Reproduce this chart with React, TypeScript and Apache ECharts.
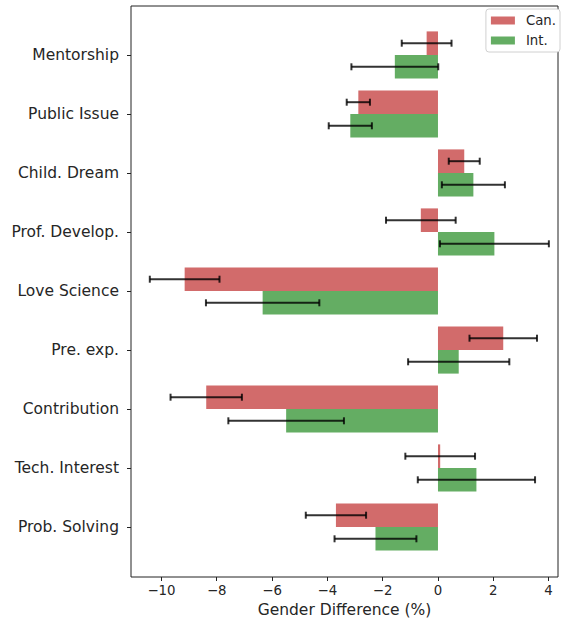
import React, { useEffect, useRef } from "react";
import * as echarts from "echarts";

const categories = [
  "Mentorship",
  "Public Issue",
  "Child. Dream",
  "Prof. Develop.",
  "Love Science",
  "Pre. exp.",
  "Contribution",
  "Tech. Interest",
  "Prob. Solving",
];
const canValues = [-0.41, -2.88, 0.95, -0.62, -9.16, 2.36, -8.38, 0.08, -3.69];
const canErrors = [0.9, 0.42, 0.56, 1.26, 1.26, 1.22, 1.29, 1.26, 1.09];
const intValues = [-1.56, -3.17, 1.28, 2.04, -6.34, 0.75, -5.49, 1.39, -2.26];
const intErrors = [1.57, 0.78, 1.14, 1.97, 2.05, 1.83, 2.09, 2.12, 1.48];
const xTicks = [-10, -8, -6, -4, -2, 0, 2, 4];
const X_MIN = -11.1;
const X_MAX = 4.34;

const FONT = "DejaVu Sans";
const TEXT = "#262626";
const RED = "#d26b6b";
const GREEN = "#64ad63";

export default function App() {
  const ref = useRef<HTMLDivElement>(null);
  useEffect(() => {
    document.body.style.margin = "0";
    if (!ref.current) return;
    const chart = echarts.init(ref.current, null, { renderer: "svg" });
    const errData: number[][] = [];
    categories.forEach((_, i) => {
      errData.push([i, canValues[i] - canErrors[i], canValues[i] + canErrors[i], -1]);
      errData.push([i, intValues[i] - intErrors[i], intValues[i] + intErrors[i], 1]);
    });
    chart.setOption({
      animation: false,
      textStyle: { fontFamily: FONT },
      grid: [
        {
          left: 131,
          right: 5,
          top: 6,
          bottom: 46,
          show: true,
          borderColor: "#222",
          borderWidth: 1,
          backgroundColor: "transparent",
        },
        { left: 131, right: 5, top: 25.5, bottom: 66.5 },
      ],
      xAxis: [
        {
          type: "value",
          gridIndex: 0,
          min: X_MIN,
          max: X_MAX,
          axisLine: { show: false },
          splitLine: { show: false },
          axisTick: {
            show: true,
            length: 4,
            lineStyle: { color: "#222" },
            customValues: xTicks,
          },
          axisLabel: {
            fontFamily: FONT,
            fontSize: 13.3,
            color: TEXT,
            margin: 7,
            customValues: xTicks,
            formatter: (v: number) => (v < 0 ? "\u2212" + Math.abs(v) : String(v)),
          },
          name: "Gender Difference (%)",
          nameLocation: "middle",
          nameGap: 24,
          nameTextStyle: { fontFamily: FONT, fontSize: 15.5, color: TEXT },
        },
        {
          type: "value",
          gridIndex: 1,
          min: X_MIN,
          max: X_MAX,
          show: false,
          splitLine: { show: false },
        },
      ],
      yAxis: [
        { type: "value", gridIndex: 0, show: false, splitLine: { show: false } },
        {
          type: "category",
          gridIndex: 1,
          data: categories,
          inverse: true,
          axisLine: { show: false, onZero: false },
          axisTick: {
            show: true,
            alignWithLabel: true,
            length: 4,
            lineStyle: { color: "#222" },
          },
          axisLabel: { fontFamily: FONT, fontSize: 15.5, color: TEXT, margin: 12 },
          splitLine: { show: false },
        },
      ],
      legend: {
        orient: "vertical",
        right: 3,
        top: 9,
        data: ["Can.", "Int."],
        icon: "rect",
        itemWidth: 24,
        itemHeight: 8,
        itemGap: 7,
        padding: [5, 4, 5, 5],
        borderColor: "#d0d0d0",
        borderWidth: 1,
        borderRadius: 3,
        backgroundColor: "#fff",
        textStyle: { fontFamily: FONT, fontSize: 13.3, color: TEXT, padding: [0, 0, 0, 6] },
      },
      series: [
        {
          name: "Can.",
          type: "bar",
          xAxisIndex: 1,
          yAxisIndex: 1,
          data: canValues,
          barWidth: 23.6,
          barGap: "0%",
          itemStyle: { color: RED },
        },
        {
          name: "Int.",
          type: "bar",
          xAxisIndex: 1,
          yAxisIndex: 1,
          data: intValues,
          barWidth: 23.6,
          barGap: "0%",
          itemStyle: { color: GREEN },
        },
        {
          type: "custom",
          xAxisIndex: 1,
          yAxisIndex: 1,
          z: 10,
          data: errData,
          encode: { x: [1, 2], y: 0 },
          renderItem: (params: any, api: any) => {
            const cat = api.value(0);
            const lo = api.coord([api.value(1), cat]);
            const hi = api.coord([api.value(2), cat]);
            const band = api.size([0, 1])[1];
            const y = lo[1] + api.value(3) * band * 0.2;
            const cap = 3.5;
            const style = { stroke: "rgba(0,0,0,0.8)", lineWidth: 2 };
            return {
              type: "group",
              children: [
                { type: "line", shape: { x1: lo[0], y1: y, x2: hi[0], y2: y }, style },
                { type: "line", shape: { x1: lo[0], y1: y - cap, x2: lo[0], y2: y + cap }, style },
                { type: "line", shape: { x1: hi[0], y1: y - cap, x2: hi[0], y2: y + cap }, style },
              ],
            };
          },
        },
      ],
    });
    return () => chart.dispose();
  }, []);
  return <div ref={ref} style={{ width: 563, height: 623 }} />;
}
